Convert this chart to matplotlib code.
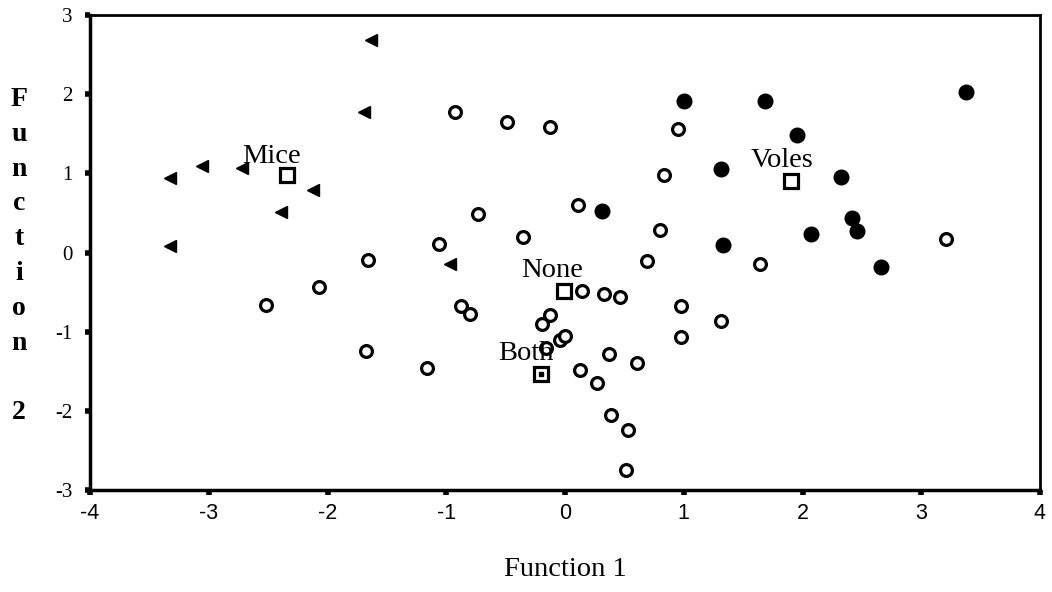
import matplotlib
matplotlib.use("Agg")
import matplotlib.pyplot as plt

# ---- data ----
mice_x = [-1.63, -1.69, -3.06, -2.72, -3.33, -2.12, -2.39, -3.33, -0.97]
mice_y = [2.68, 1.78, 1.09, 1.07, 0.94, 0.79, 0.51, 0.08, -0.14]

voles_x = [1.00, 1.68, 3.38, 1.95, 1.31, 2.32, 0.31, 2.42, 2.46, 2.07, 1.33, 2.66]
voles_y = [1.91, 1.91, 2.03, 1.48, 1.06, 0.95, 0.52, 0.43, 0.27, 0.24, 0.09, -0.18]

none_x = [-0.93, -0.49, -0.13, 0.95, 0.83, -0.73, 0.11, 0.80, -1.06, -0.35,
          -1.66, -2.07, -2.52, -1.68, -1.16, 0.69, 0.14, 0.33, 0.46, 0.98,
          1.31, 0.98, -0.88, -0.80, -0.13, -0.19, -0.04, 0.00, -0.16, 0.13,
          0.27, 0.37, 0.61, 0.39, 0.53, 0.51, 1.64, 3.21]
none_y = [1.78, 1.65, 1.59, 1.56, 0.98, 0.49, 0.60, 0.29, 0.11, 0.19,
          -0.09, -0.44, -0.66, -1.25, -1.46, -0.11, -0.49, -0.52, -0.56, -0.68,
          -0.87, -1.07, -0.68, -0.78, -0.79, -0.90, -1.10, -1.06, -1.20, -1.49,
          -1.65, -1.28, -1.40, -2.05, -2.24, -2.75, -0.14, 0.17]

centroid_names = ["Mice", "Voles", "None", "Both"]
centroid_x = [-2.34, 1.90, -0.01, -0.20]
centroid_y = [0.98, 0.90, -0.48, -1.54]

x_ticks = [-4, -3, -2, -1, 0, 1, 2, 3, 4]
y_ticks = [-3, -2, -1, 0, 1, 2, 3]

x_label = "Function 1"
y_label = "Function 2"

# ---- figure ----
W, H = 1052, 592
fig = plt.figure(figsize=(W / 100, H / 100), dpi=100)
ax = fig.add_axes([90 / W, 1 - 490 / H, 950 / W, 475 / H])

serif = ["Liberation Serif", "DejaVu Serif"]
sans = ["Liberation Sans", "DejaVu Sans"]

ax.plot(none_x, none_y, linestyle="none", marker="o", markersize=8.5,
        markerfacecolor="white", markeredgecolor="black", markeredgewidth=2.3)
ax.plot(voles_x, voles_y, linestyle="none", marker="o", markersize=10.5,
        markerfacecolor="black", markeredgecolor="black")
ax.plot(mice_x, mice_y, linestyle="none", marker="<", markersize=8,
        markerfacecolor="black", markeredgecolor="black")

# centroids
ax.plot(centroid_x, centroid_y, linestyle="none", marker="s", markersize=10,
        markerfacecolor="white", markeredgecolor="black", markeredgewidth=2.3)
ax.plot(centroid_x[3:], centroid_y[3:], linestyle="none", marker="s", markersize=3.5,
        markerfacecolor="black", markeredgecolor="black")

label_pos = {"Mice": (-2.47, 1.135), "Voles": (1.83, 1.085),
             "None": (-0.11, -0.306), "Both": (-0.33, -1.356)}
for name in centroid_names:
    lx, ly = label_pos[name]
    ax.text(lx, ly, name, ha="center", va="baseline", fontsize=20.5,
            family=serif, color="black")

ax.set_xlim(-4, 4)
ax.set_ylim(-3, 3)
ax.set_xticks(x_ticks)
ax.set_yticks(y_ticks)
ax.set_xticklabels([str(t) for t in x_ticks], fontsize=15.5, family=sans)
ax.set_yticklabels([str(t) for t in y_ticks], fontsize=15, family=serif)
ax.tick_params(axis="both", direction="out", length=3.5, width=4, color="black")
ax.tick_params(axis="x", pad=6)
ax.tick_params(axis="y", pad=9)

for side in ["left", "bottom"]:
    ax.spines[side].set_linewidth(2.5)
for side in ["top", "right"]:
    ax.spines[side].set_linewidth(2.0)

fig.text(565 / W, 1 - 576 / H, x_label, ha="center", va="baseline",
         fontsize=20.5, family=serif)

# stacked vertical y label
for i, ch in enumerate(y_label):
    if ch == " ":
        continue
    base = 106 + i * 34.8
    fig.text(19 / W, 1 - base / H, ch, ha="center", va="baseline",
             fontsize=20, family=serif, fontweight="bold")

fig.savefig("out.png", dpi=100)
